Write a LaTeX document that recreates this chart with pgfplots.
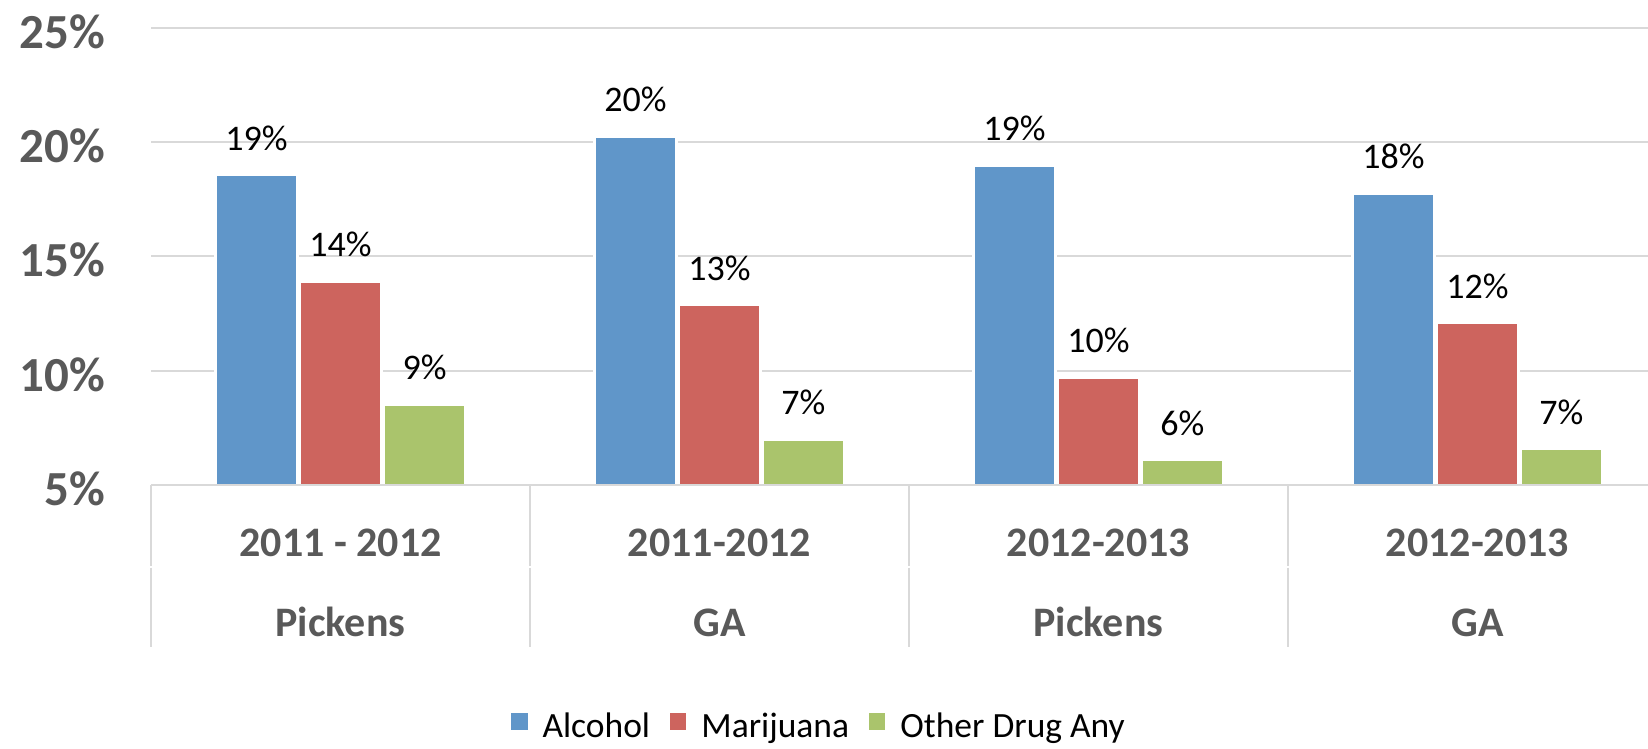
\documentclass[border=0pt]{standalone}
\usepackage{fontspec}
\setmainfont{Carlito}
\usepackage{pgfplots}
\pgfplotsset{compat=1.18}
\definecolor{cblue}{HTML}{6096C9}
\definecolor{cred}{HTML}{CD645E}
\definecolor{cgreen}{HTML}{AAC46C}
\definecolor{tgray}{HTML}{595959}
\definecolor{gridc}{HTML}{D9D9D9}
\begin{document}
\begin{tikzpicture}
\path[use as bounding box] (0,0) rectangle (1648pt,748pt);
\begin{axis}[
  at={(151pt,263pt)}, anchor=south west,
  width=1497pt, height=457.3pt, scale only axis,
  xmin=-0.5, xmax=3.45, ymin=5, ymax=25,
  clip mode=individual,
  /pgf/number format/assume math mode=true,
  axis line style={draw=none},
  major tick length=0pt,
  ytick={5,10,15,20,25},
  yticklabel={\pgfmathprintnumber{\tick}\%},
  yticklabel style={font=\fontsize{49}{58}\selectfont\bfseries, text=tgray, anchor=base east, inner sep=0pt, xshift=-46pt, yshift=-20.5pt},
  ymajorgrids, grid style={gridc, line width=1.8pt},
  xtick={0,1,2,3},
  xticklabels={2011 - 2012, 2011-2012, 2012-2013, 2012-2013},
  xticklabel style={font=\fontsize{42}{50}\selectfont\bfseries, text=tgray, anchor=base, inner sep=0pt, yshift=-71pt},
  extra x ticks={0,1,2,3},
  extra x tick labels={Pickens, GA, Pickens, GA},
  extra x tick style={xticklabel style={yshift=-80.7pt}},
  ybar=2pt, bar width=82pt,
  every axis plot/.append style={draw=white, line width=2.5pt},
  nodes near coords={\pgfmathprintnumber[fixed,precision=0]{\pgfplotspointmeta}\%},
  nodes near coords style={font=\fontsize{36}{43}\selectfont, text=black, anchor=base, inner sep=0pt, yshift=25pt},
  legend style={at={(0.2405,-0.527)}, anchor=west, draw=none, fill=none, inner sep=0pt,
    font=\fontsize{35.5}{42}\selectfont,
    /tikz/every odd column/.style={column sep=15pt},
    /tikz/every even column/.style={column sep=20pt},
    nodes={inner sep=0pt}},
  legend columns=-1,
  legend image code/.code={\fill[draw=none] (0pt,-3.5pt) rectangle (16.3pt,12.8pt);},
]
\addplot[fill=cblue] coordinates {(0,18.55) (1,20.23) (2,18.98) (3,17.74)};
\addplot[fill=cred] coordinates {(0,13.88) (1,12.87) (2,9.71) (3,12.08)};
\addplot[fill=cgreen] coordinates {(0,8.52) (1,6.97) (2,6.09) (3,6.57)};
\legend{Alcohol, Marijuana, Other Drug Any}
\draw[gridc, line width=1.8pt] (axis cs:-0.5,5) -- (axis cs:3.45,5);
\pgfplotsinvokeforeach{-0.5,0.5,1.5,2.5}{
  \draw[gridc, line width=1.8pt] (axis cs:#1,5) -- ++(0pt,-81pt);
  \draw[gridc, line width=1.8pt] (axis cs:#1,5) ++(0pt,-82.5pt) -- ++(0pt,-79.5pt);
}
\end{axis}
\end{tikzpicture}
\end{document}
